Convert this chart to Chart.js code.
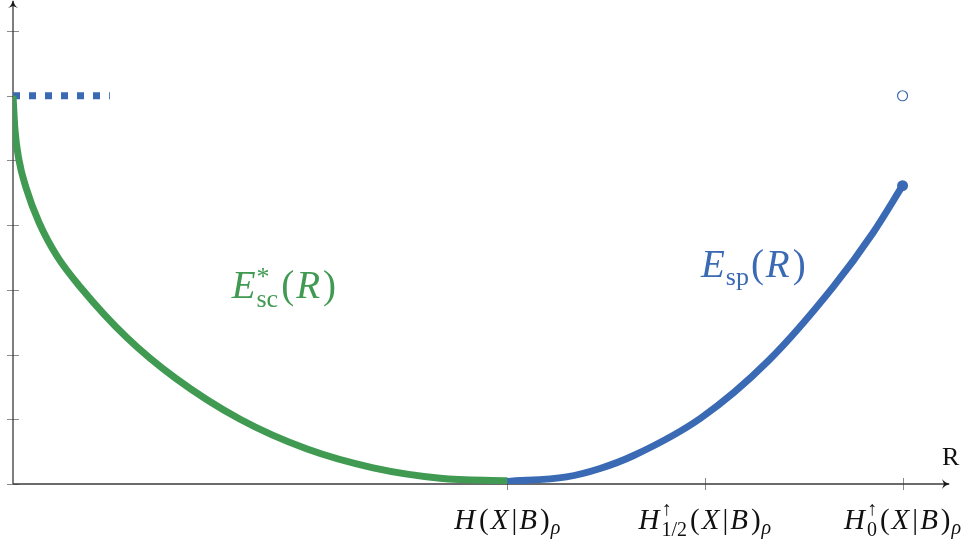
<!DOCTYPE html>
<html>
<head>
<meta charset="utf-8">
<script src="https://cdn.jsdelivr.net/npm/chart.js@4"></script>
<style>
  html, body { margin: 0; padding: 0; background: #fff; }
  #wrap { width: 973px; height: 546px; }
</style>
</head>
<body>
<div id="wrap"><canvas id="errExp"></canvas></div>
<script>
// values (x in units of the R axis, y in units of the exponent axis)
const scX = [0, 0.010, 0.030, 0.066, 0.132, 0.223, 0.339, 0.577, 0.820, 1.149, 1.488, 1.822, 2.161, 2.5];
const scY = [6.0, 5.47, 5.01, 4.58, 4.04, 3.52, 3.05, 2.26, 1.64, 1.00, 0.54, 0.25, 0.09, 0.05];
const spX = [2.5, 2.80, 2.97, 3.14, 3.48, 3.82, 4.15, 4.35, 4.5];
const spY = [0.04, 0.11, 0.24, 0.44, 1.02, 1.9, 3.05, 3.88, 4.61];
const capX = [0, 0.49];
const capY = [6, 6];
const openX = [4.5];
const openY = [6];
const xTickVals = [2.5, 3.5, 4.5];
const yTickVals = [0, 1, 2, 3, 4, 5, 6, 7];

const green = 'rgb(64,154,82)';
const blue = 'rgb(58,106,180)';

function toPts(xs, ys) {
  return xs.map((x, i) => ({ x: x, y: ys[i] }));
}

// a run of math text: t text, it italic, s size, dy baseline shift, gap extra space after
function drawRuns(ctx, runs, x, y, align) {
  let total = 0;
  runs.forEach(r => {
    if (r.stack) {
      ctx.font = r.s + 'px "Liberation Serif"';
      r.w = Math.max(ctx.measureText(r.up).width, ctx.measureText(r.down).width);
    } else {
      ctx.font = (r.it ? 'italic ' : '') + r.s + 'px "Liberation Serif"';
      r.w = ctx.measureText(r.t).width;
    }
    total += r.w + (r.gap || 0);
  });
  let cx = align === 'center' ? x - total / 2 : x;
  ctx.textAlign = 'left';
  ctx.textBaseline = 'alphabetic';
  runs.forEach(r => {
    if (r.stack) {
      ctx.font = r.s + 'px "Liberation Serif"';
      ctx.fillText(r.up, cx, y + r.upDy);
      ctx.fillText(r.down, cx, y + r.downDy);
    } else {
      ctx.font = (r.it ? 'italic ' : '') + r.s + 'px "Liberation Serif"';
      ctx.fillText(r.t, cx, y + (r.dy || 0));
    }
    cx += r.w + (r.gap || 0);
  });
}

const condRuns = [
  { t: '(', s: 29, gap: 2 }, { t: 'X', it: true, s: 29, gap: 3 }, { t: '|', s: 29, gap: 2 },
  { t: 'B', it: true, s: 29, gap: 3 }, { t: ')', s: 29, gap: 1 }, { t: 'ρ', it: true, s: 20, dy: 5 }
];
const xTickRuns = [
  [{ t: 'H', it: true, s: 29, gap: 4 }].concat(condRuns),
  [{ t: 'H', it: true, s: 29, gap: 2 }, { stack: true, up: '↑', down: '1/2', s: 20, upDy: -14, downDy: 7, gap: 3 }].concat(condRuns),
  [{ t: 'H', it: true, s: 29, gap: 2 }, { stack: true, up: '↑', down: '0', s: 20, upDy: -14, downDy: 7, gap: 3 }].concat(condRuns)
];

const axesPlugin = {
  id: 'texAxes',
  beforeDatasetsDraw(chart) {
    const ctx = chart.ctx;
    const xs = chart.scales.x, ys = chart.scales.y;
    const x0 = xs.getPixelForValue(0), y0 = ys.getPixelForValue(0);
    const xEnd = xs.right, yTop = ys.top;
    ctx.save();
    // ticks
    ctx.strokeStyle = '#8a8a8a';
    ctx.lineWidth = 1;
    yTickVals.forEach(v => {
      const py = Math.round(ys.getPixelForValue(v)) + 0.5;
      ctx.beginPath(); ctx.moveTo(x0 - 6, py); ctx.lineTo(x0 + 6, py); ctx.stroke();
    });
    xTickVals.forEach(v => {
      const px = Math.round(xs.getPixelForValue(v)) + 0.5;
      ctx.beginPath(); ctx.moveTo(px, y0 - 6); ctx.lineTo(px, y0 + 6); ctx.stroke();
    });
    // axis lines
    ctx.strokeStyle = '#3a3a3a';
    ctx.lineWidth = 1.3;
    ctx.beginPath(); ctx.moveTo(x0, y0); ctx.lineTo(xEnd - 1, y0); ctx.stroke();
    ctx.beginPath(); ctx.moveTo(x0, y0); ctx.lineTo(x0, yTop + 1); ctx.stroke();
    // arrow heads
    ctx.fillStyle = '#1a1a1a';
    ctx.beginPath();
    ctx.moveTo(xEnd, y0);
    ctx.quadraticCurveTo(xEnd - 5, y0 - 1, xEnd - 8, y0 - 5);
    ctx.lineTo(xEnd - 6, y0);
    ctx.lineTo(xEnd - 8, y0 + 5);
    ctx.quadraticCurveTo(xEnd - 5, y0 + 1, xEnd, y0);
    ctx.fill();
    ctx.beginPath();
    ctx.moveTo(x0, yTop);
    ctx.quadraticCurveTo(x0 - 1, yTop + 5, x0 - 5, yTop + 8);
    ctx.lineTo(x0, yTop + 6);
    ctx.lineTo(x0 + 5, yTop + 8);
    ctx.quadraticCurveTo(x0 + 1, yTop + 5, x0, yTop);
    ctx.fill();
    ctx.restore();
  },
  afterDatasetsDraw(chart) {
    const ctx = chart.ctx;
    const xs = chart.scales.x, ys = chart.scales.y;
    const y0 = ys.getPixelForValue(0);
    ctx.save();
    ctx.fillStyle = '#111';
    xTickVals.forEach((v, i) => {
      drawRuns(ctx, xTickRuns[i], xs.getPixelForValue(v), y0 + 45, 'center');
    });
    ctx.font = '26px "Liberation Serif"';
    ctx.textAlign = 'left';
    ctx.fillText('R', xs.right - 8, y0 - 19);
    // curve labels
    ctx.fillStyle = green;
    drawRuns(ctx, [
      { t: 'E', it: true, s: 39, gap: 1 },
      { stack: true, up: '*', down: 'sc', s: 26, upDy: -13, downDy: 9, gap: 3 },
      { t: '(', s: 39, gap: 2 }, { t: 'R', it: true, s: 39, gap: 3 }, { t: ')', s: 39 }
    ], xs.getPixelForValue(1.37), ys.getPixelForValue(2.87), 'center');
    ctx.fillStyle = blue;
    drawRuns(ctx, [
      { t: 'E', it: true, s: 39, gap: 1 },
      { t: 'sp', s: 26, dy: 8, gap: 2 },
      { t: '(', s: 39, gap: 2 }, { t: 'R', it: true, s: 39, gap: 3 }, { t: ')', s: 39 }
    ], xs.getPixelForValue(3.745), ys.getPixelForValue(3.2), 'center');
    ctx.restore();
  }
};

new Chart(document.getElementById('errExp'), {
  type: 'scatter',
  data: {
    datasets: [
      {
        label: 'E_sp',
        data: toPts(spX, spY),
        showLine: true,
        borderColor: blue,
        backgroundColor: blue,
        borderWidth: 7,
        cubicInterpolationMode: 'monotone',
        pointRadius: spX.map((v, i) => i === spX.length - 1 ? 5.5 : 0),
        pointBorderWidth: 0
      },
      {
        label: 'E_sc',
        data: toPts(scX, scY),
        showLine: true,
        borderColor: green,
        backgroundColor: green,
        borderWidth: 7,
        cubicInterpolationMode: 'monotone',
        pointRadius: 0
      },
      {
        label: 'cap',
        data: toPts(capX, capY),
        showLine: true,
        borderColor: blue,
        borderWidth: 7,
        borderDash: [7, 9],
        borderCapStyle: 'butt',
        pointRadius: 0
      },
      {
        label: 'open',
        data: toPts(openX, openY),
        showLine: false,
        pointRadius: 5,
        pointBackgroundColor: '#fff',
        pointBorderColor: blue,
        pointBorderWidth: 1.2
      }
    ]
  },
  options: {
    responsive: true,
    maintainAspectRatio: false,
    animation: false,
    layout: { autoPadding: false, padding: { left: 13, right: 23, top: 0, bottom: 62 } },
    plugins: { legend: { display: false }, tooltip: { enabled: false } },
    scales: {
      x: { type: 'linear', min: 0, max: 4.74, display: false },
      y: { type: 'linear', min: 0, max: 7.48, display: false }
    }
  },
  plugins: [axesPlugin]
});
</script>
</body>
</html>
